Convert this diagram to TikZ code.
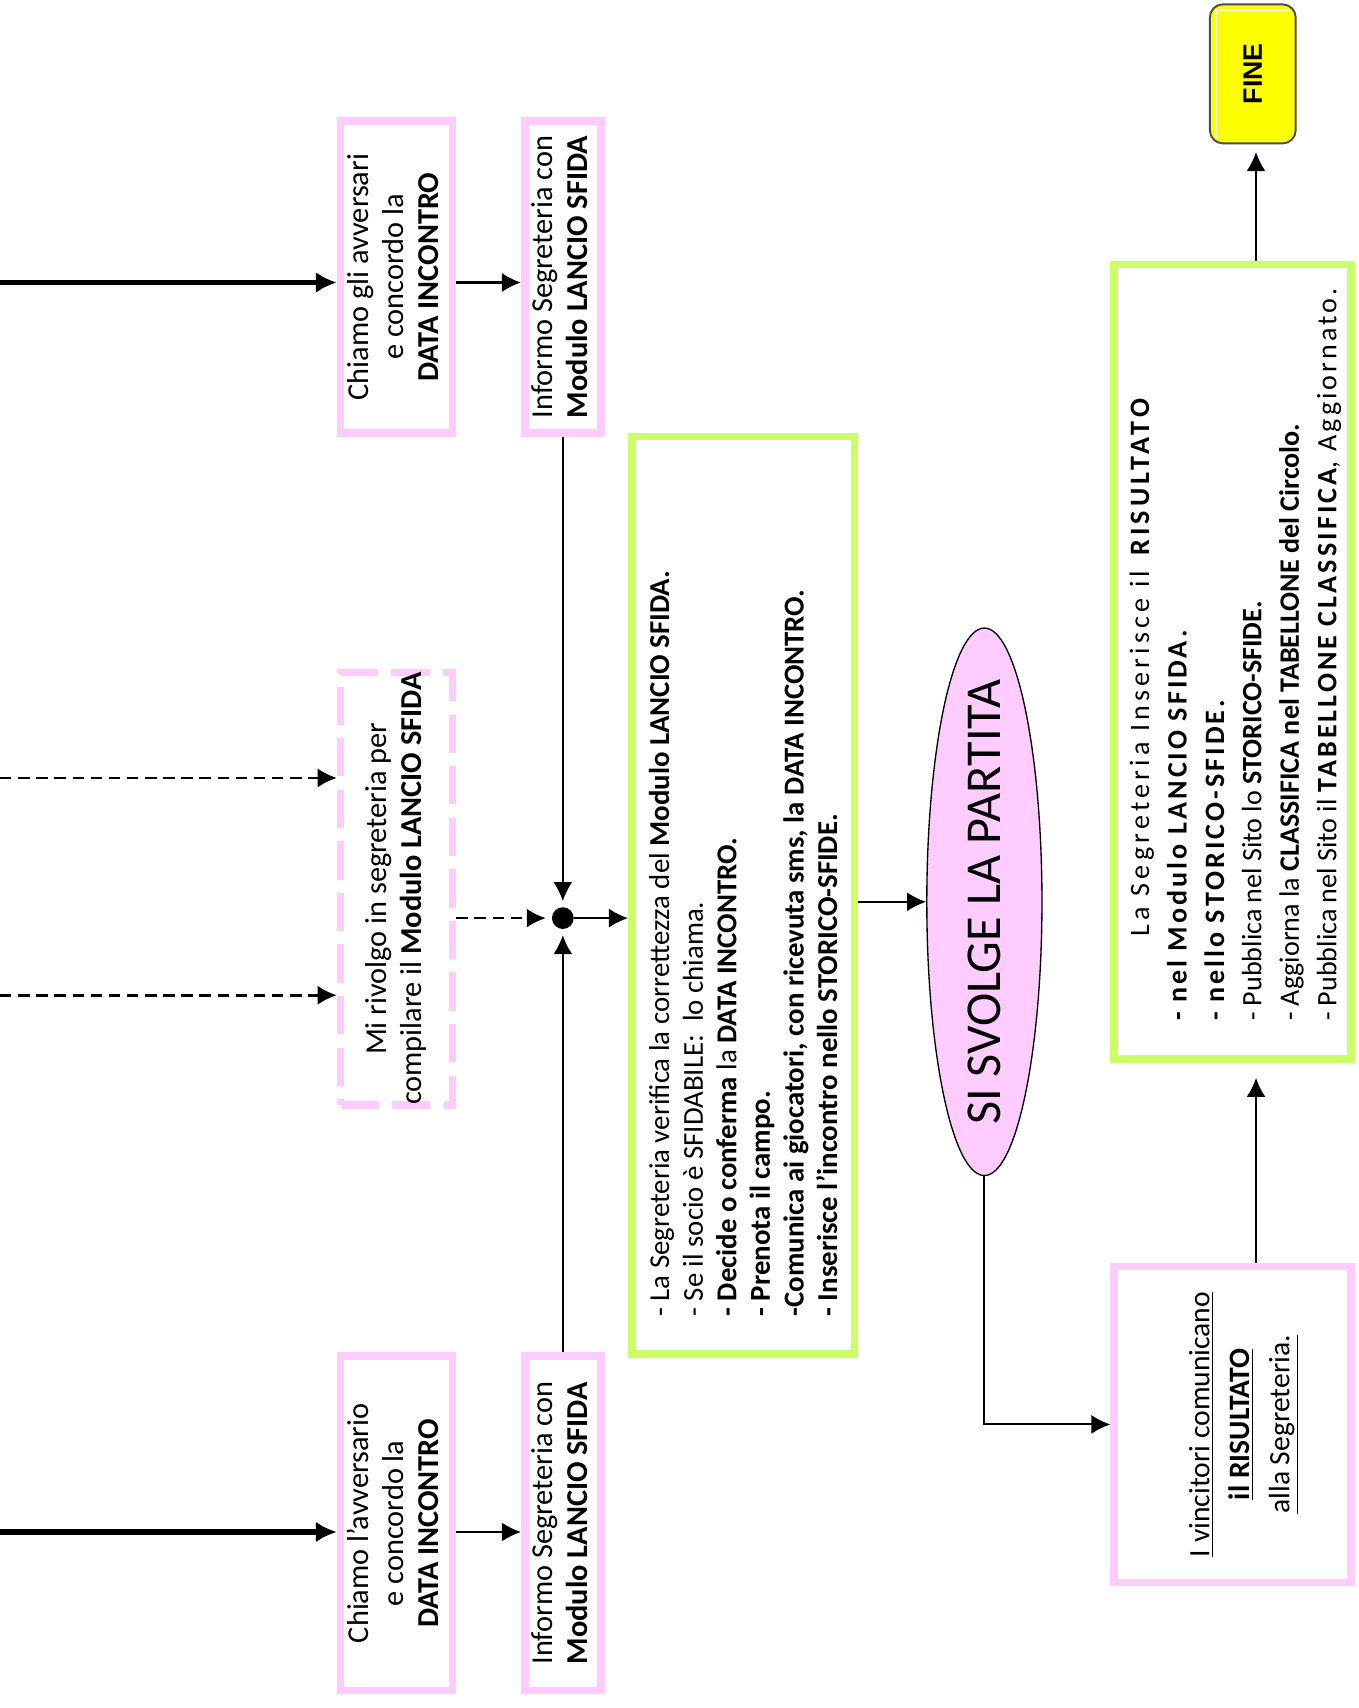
\documentclass[tikz,border=0pt]{standalone}
\usepackage{fontspec}
\setmainfont{Carlito}
\newfontfamily\spaced[LetterSpace=11]{Carlito}
\newfontfamily\spacedwide[LetterSpace=15]{Carlito}
\newfontfamily\finefont{Liberation Sans}
\usetikzlibrary{arrows.meta,shapes.geometric}
\definecolor{boxpink}{HTML}{FFCCFF}
\definecolor{boxgreen}{HTML}{CCFF66}
\definecolor{fineyellow}{HTML}{FFFF00}
\newcommand{\vtext}[1]{\rotatebox{90}{\begin{tabular}{@{}c@{}}#1\end{tabular}}}
\tikzset{
	pinkbox/.style={draw=boxpink, line width=4pt, inner sep=0pt, font=\fontsize{15.9}{18.4}\selectfont},
	dashbox/.style={pinkbox, dash pattern=on 20pt off 7pt},
	greenbox/.style={draw=boxgreen, line width=4pt, inner sep=0pt},
	arr/.style={line width=1.1pt, -{Latex[length=10pt,width=10pt]}},
	bigarr/.style={line width=2.8pt, -{Latex[length=11pt,width=11pt]}},
	dasharr/.style={arr, line width=1.4pt, dash pattern=on 6pt off 3.5pt},
}
\begin{document}
\begin{tikzpicture}[x=0.02cm, y=-0.02cm]
		\useasboundingbox (0,0) rectangle (1250,1572);
		% ingressi da sinistra
		\coordinate (inA) at (0,260);
		\coordinate (inC1) at (0,716);
		\coordinate (inC2) at (0,916);
		\coordinate (inE) at (0,1410);
		\coordinate (asse) at (1156,0);
		% prima colonna
		\node[pinkbox, minimum width=2.06cm, minimum height=5.74cm] (chiamoA) at (365,255) {\vtext{Chiamo gli avversari\\e concordo la\\\textbf{DATA INCONTRO}}};
		\node[dashbox, minimum width=2.06cm, minimum height=7.86cm] (rivolgo) at (365,818) {\vtext{Mi rivolgo in segreteria per\\compilare il \textbf{Modulo LANCIO SFIDA}}};
		\node[pinkbox, minimum width=2.06cm, minimum height=6.16cm] (chiamoE) at (365,1402) {\vtext{Chiamo l’avversario\\e concordo la\\\textbf{DATA INCONTRO}}};
		% seconda colonna
		\node[pinkbox, minimum width=1.40cm, minimum height=5.74cm] (informoA) at (518,255) {\vtext{Informo Segreteria con\\\textbf{Modulo LANCIO SFIDA}}};
		\node[pinkbox, minimum width=1.40cm, minimum height=6.16cm] (informoE) at (518,1402) {\vtext{Informo Segreteria con\\\textbf{Modulo LANCIO SFIDA}}};
		\node[circle, fill=black, inner sep=0pt, minimum size=0.4cm] (nodo) at (518,845) {};
		% segreteria
		\node[greenbox, minimum width=4.10cm, minimum height=16.9cm] (verifica) at (684,824) {};
		\node[rotate=90, anchor=west, align=left, inner sep=0pt, font=\fontsize{15.1}{17.6}\selectfont] (verificatesto) at (684,1212) {- La Segreteria verifica la correttezza del \textbf{Modulo LANCIO SFIDA.}\\
			- Se il socio è SFIDABILE:~ lo chiama.\\
			\textbf{- Decide o conferma} la \textbf{DATA INCONTRO.}\\
			\textbf{- Prenota il campo.}\\
			\textbf{-Comunica ai giocatori, con ricevuta sms, la DATA INCONTRO.}\\
			\textbf{- Inserisce l’incontro nello STORICO-SFIDE.}};
		\node[ellipse, draw=black, line width=0.7pt, fill=boxpink, minimum width=2.12cm, minimum height=10.08cm, inner sep=0pt] (partita) at (906,830) {\rotatebox{90}{\makebox[0pt]{\fontsize{26.3}{30}\selectfont SI SVOLGE LA PARTITA}}};
		% risultato
		\node[pinkbox, minimum width=4.36cm, minimum height=5.82cm, font=\fontsize{15.5}{21}\selectfont] (esito) at (1134.5,1311) {\rotatebox{90}{\raisebox{-0.16cm}[\height][\depth]{\begin{tabular}{@{}c@{}}\underline{I vincitori comunicano}\\\underline{\textbf{il RISULTATO}}\\\underline{alla Segreteria.}\end{tabular}}}};
		\node[greenbox, minimum width=4.36cm, minimum height=14.62cm] (risultato) at (1134.5,609) {};
		\node[rotate=90, anchor=west, align=left, inner sep=0pt, font=\fontsize{14.7}{19.6}\selectfont] (risultatotesto) at (1137,940) {\hspace*{1.56cm}{\spacedwide La Segreteria Inserisce il \textbf{RISULTATO}}\\
			{\spaced\bfseries - nel Modulo LANCIO SFIDA.}\\
			{\spaced\bfseries - nello STORICO-SFIDE.}\\
			- Pubblica nel Sito lo \textbf{STORICO-SFIDE.}\\
			- Aggiorna la \textbf{CLASSIFICA nel TABELLONE del Circolo.}\\
			- Pubblica nel Sito il {\spaced\textbf{TABELLONE CLASSIFICA}, Aggiornato.}};
		\node[draw=black!70, line width=1pt, fill=fineyellow, rounded corners=0.24cm, minimum width=1.58cm, minimum height=2.56cm, inner sep=0pt] (fine) at (1153,68) {\rotatebox{90}{\finefont\bfseries\fontsize{14}{16}\selectfont FINE}};
		\draw[white, line width=0.6pt] ([shift={(0.13cm,0.13cm)}]fine.south west) rectangle ([shift={(-0.13cm,-0.13cm)}]fine.north east);
		% collegamenti
		\draw[bigarr] (inA) -- (inA -| chiamoA.west);
		\draw[bigarr] (inE) -- (inE -| chiamoE.west);
		\draw[dasharr] (inC1) -- (inC1 -| rivolgo.west);
		\draw[dasharr] (inC2) -- (inC2 -| rivolgo.west);
		\draw[arr] (chiamoA.east |- inA) -- (informoA.west |- inA);
		\draw[arr] (chiamoE.east |- inE) -- (informoE.west |- inE);
		\draw[dasharr, shorten >=3pt] (rivolgo.east |- nodo) -- (nodo.west);
		\draw[arr, shorten >=3pt] (informoA.south) -- (nodo.north);
		\draw[arr, shorten >=3pt] (informoE.north) -- (nodo.south);
		\draw[arr] (nodo.east) -- (verifica.west |- nodo);
		\draw[arr] (verifica.east |- partita) -- (partita.west);
		\draw[arr] (partita.south) |- (esito.west);
		\draw[arr, shorten >=8pt] (esito.north -| asse) -- (risultato.south -| asse);
		\draw[arr, shorten >=4pt] (risultato.north -| asse) -- (fine.south -| asse);
	\end{tikzpicture}
\end{document}
